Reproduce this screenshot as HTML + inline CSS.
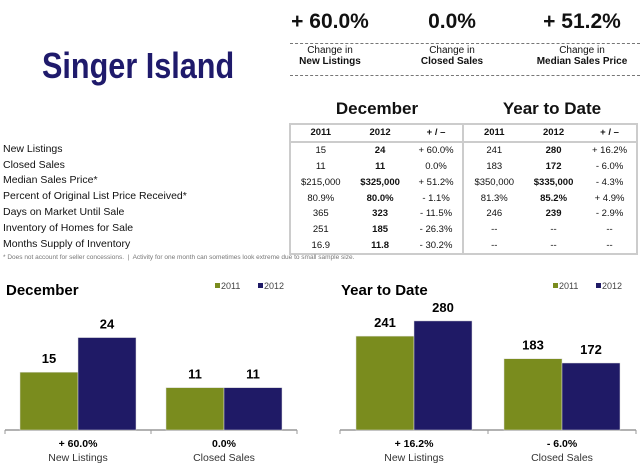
<!DOCTYPE html>
<html><head><meta charset="utf-8"><style>
body{margin:0;width:640px;height:472px;background:#fff;font-family:"Liberation Sans",sans-serif;color:#111;position:relative;overflow:hidden}
.a{position:absolute;white-space:nowrap}
.c{text-align:center;transform:translateX(-50%)}
.big{font-size:21px;font-weight:bold;top:10px}
.sm{font-size:10px}
.dash{position:absolute;left:290px;width:350px;border-top:1px dashed #777}
table{position:absolute;left:289px;top:123px;width:349px;border-collapse:collapse;font-size:9.5px}
td{text-align:center;height:15.8px;padding:0;line-height:15px}
.lbl{position:absolute;left:3px;font-size:10.5px}
</style></head><body>
<div class="a" style="left:42px;top:45px;font-family:'Liberation Sans Narrow','Liberation Sans',sans-serif;font-size:36px;font-weight:bold;color:#1f1a6b;transform:scaleX(0.85);transform-origin:left">Singer Island</div>

<div class="a c big" style="left:330px">+ 60.0%</div>
<div class="a c big" style="left:452px">0.0%</div>
<div class="a c big" style="left:582px">+ 51.2%</div>
<div class="dash" style="top:43px"></div><div class="dash" style="top:75px"></div>
<div class="a c sm" style="left:330px;top:45px">Change in<br><b>New Listings</b></div>
<div class="a c sm" style="left:452px;top:45px">Change in<br><b>Closed Sales</b></div>
<div class="a c sm" style="left:582px;top:45px">Change in<br><b>Median Sales Price</b></div>

<div class="a c" style="left:377px;top:99px;font-size:17px;font-weight:bold">December</div>
<div class="a c" style="left:552px;top:99px;font-size:17px;font-weight:bold">Year to Date</div>

<table style="border:2px solid #ccc">
<tr style="border-bottom:2px solid #ccc;font-weight:bold"><td style="height:15px">2011</td><td>2012</td><td style="border-right:2px solid #ccc">+ / –</td><td>2011</td><td>2012</td><td>+ / –</td></tr>
<tr><td>15</td><td><b>24</b></td><td style="border-right:2px solid #ccc">+ 60.0%</td><td>241</td><td><b>280</b></td><td>+ 16.2%</td></tr>
<tr><td>11</td><td><b>11</b></td><td style="border-right:2px solid #ccc">0.0%</td><td>183</td><td><b>172</b></td><td>- 6.0%</td></tr>
<tr><td>$215,000</td><td><b>$325,000</b></td><td style="border-right:2px solid #ccc">+ 51.2%</td><td>$350,000</td><td><b>$335,000</b></td><td>- 4.3%</td></tr>
<tr><td>80.9%</td><td><b>80.0%</b></td><td style="border-right:2px solid #ccc">- 1.1%</td><td>81.3%</td><td><b>85.2%</b></td><td>+ 4.9%</td></tr>
<tr><td>365</td><td><b>323</b></td><td style="border-right:2px solid #ccc">- 11.5%</td><td>246</td><td><b>239</b></td><td>- 2.9%</td></tr>
<tr><td>251</td><td><b>185</b></td><td style="border-right:2px solid #ccc">- 26.3%</td><td>--</td><td>--</td><td>--</td></tr>
<tr><td>16.9</td><td><b>11.8</b></td><td style="border-right:2px solid #ccc">- 30.2%</td><td>--</td><td>--</td><td>--</td></tr>
</table>
<div class="lbl" style="top:143px">New Listings</div>
<div class="lbl" style="top:159px">Closed Sales</div>
<div class="lbl" style="top:174px">Median Sales Price*</div>
<div class="lbl" style="top:190px">Percent of Original List Price Received*</div>
<div class="lbl" style="top:206px">Days on Market Until Sale</div>
<div class="lbl" style="top:222px">Inventory of Homes for Sale</div>
<div class="lbl" style="top:238px">Months Supply of Inventory</div>
<div class="a" style="left:3px;top:254px;font-size:6.5px;color:#777">* Does not account for seller concessions. &nbsp;|&nbsp; Activity for one month can sometimes look extreme due to small sample size.</div>

<svg width="640" height="472" style="position:absolute;left:0;top:0" id="svg" font-family="Liberation Sans, sans-serif"></svg>
<script>
const categories=["New Listings","Closed Sales"];
const decChange=["+ 60.0%","0.0%"];
const dec2011=[15,11];
const dec2012=[24,11];
const ytdChange=["+ 16.2%","- 6.0%"];
const ytd2011=[241,183];
const ytd2012=[280,172];
const G="#7a8c1e",N="#1f1a66";
const svg=document.getElementById('svg');
function el(t,a,txt){const e=document.createElementNS('http://www.w3.org/2000/svg',t);for(const k in a)e.setAttribute(k,a[k]);if(txt!==undefined)e.textContent=txt;svg.appendChild(e);return e;}
function chart(x0,x1,title,lx,a,b,ch,max,key){
  const base=430,h=104;
  const y=v=>base-v/max*h;
  const gw=(x1-x0)/2;
  let t=el('text',{x:x0+1,y:295,'font-size':15,'font-weight':'bold','font-family':'Liberation Sans Narrow, Liberation Sans, sans-serif'},title);
  
  [[G,'2011',lx],[N,'2012',lx+43]].forEach(([c,l,x])=>{
    let r=el('rect',{x:x,y:283,width:5,height:5,fill:c});
    
    let tt=el('text',{x:x+6,y:289,'font-size':9,fill:'#444'},l);
    
  });
  let ax=el('line',{x1:x0,x2:x1,y1:base,y2:base,stroke:'#999','stroke-width':1.5});
  
  [x0,x0+gw,x1].forEach(x=>el('line',{x1:x,x2:x,y1:base,y2:base+4,stroke:'#999'}));
  categories.forEach((c,i)=>{
    const cx=x0+gw*i+gw/2,bw=58;
    [[a[i],G,cx-bw,'2011'],[b[i],N,cx,'2012']].forEach(([v,col,bx,s])=>{
      let r=el('rect',{x:bx,y:y(v),width:bw,height:base-y(v),fill:col,stroke:'#ddd','stroke-width':0.5});
      
      let tv=el('text',{x:bx+bw/2,y:y(v)-9,'font-size':13,'font-weight':'bold','text-anchor':'middle'},v);
      
    });
    let p=el('text',{x:cx,y:447,'font-size':10.5,'font-weight':'bold','text-anchor':'middle'},ch[i]);
    
    let cl=el('text',{x:cx,y:461,'font-size':10.5,'text-anchor':'middle',fill:'#333'},c);
    
  });
}
chart(5,297,'December',215,dec2011,dec2012,decChange,27,'december');
chart(340,636,'Year to Date',553,ytd2011,ytd2012,ytdChange,267,'ytd');
</script>
</body></html>
